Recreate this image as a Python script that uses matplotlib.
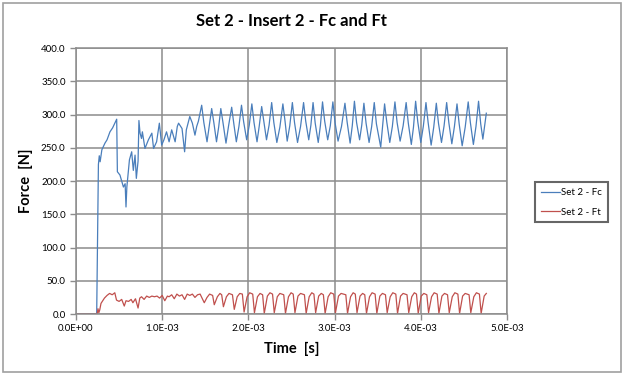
import matplotlib
matplotlib.use("Agg")
import matplotlib.pyplot as plt
from matplotlib.patches import Rectangle
from matplotlib.ticker import FuncFormatter, MultipleLocator

plt.rcParams['font.family'] = ['Lato', 'DejaVu Sans']

# Time in ms (converted to s below), forces in N
fc_t = [0.0, 0.24, 0.25, 0.26, 0.27, 0.28, 0.30, 0.336, 0.36, 0.394, 0.425, 0.472,
        0.48, 0.51, 0.55, 0.57, 0.58, 0.59, 0.62, 0.646, 0.665, 0.685, 0.70, 0.72,
        0.73, 0.743, 0.76, 0.77, 0.80, 0.84, 0.88, 0.90, 0.935, 0.967, 0.994, 1.02,
        1.05, 1.08, 1.11, 1.15, 1.175, 1.19, 1.23, 1.26, 1.28, 1.32, 1.35, 1.38,
        1.40, 1.42,
        1.458, 1.483, 1.52, 1.545, 1.574, 1.60, 1.63, 1.655, 1.68, 1.705, 1.74,
        1.77, 1.806, 1.83, 1.86, 1.89, 1.92, 1.945, 1.98, 2.01, 2.04, 2.065, 2.10,
        2.125, 2.154, 2.18, 2.21, 2.24, 2.27, 2.295, 2.33, 2.365, 2.40, 2.425,
        2.45, 2.48, 2.51, 2.535, 2.57, 2.605, 2.64, 2.665, 2.70, 2.725, 2.75,
        2.775, 2.81, 2.835, 2.86, 2.885, 2.92, 2.95, 2.98, 3.005, 3.04, 3.08,
        3.12, 3.145, 3.18, 3.205, 3.23, 3.255, 3.29, 3.315, 3.34, 3.365, 3.40,
        3.43, 3.46, 3.485, 3.535, 3.555, 3.58, 3.605, 3.64, 3.67, 3.70, 3.725,
        3.76, 3.795, 3.83, 3.855, 3.89, 3.915, 3.94, 3.965, 4.00, 4.03, 4.06,
        4.085, 4.12, 4.15, 4.18, 4.205, 4.24, 4.27, 4.30, 4.325, 4.36, 4.39,
        4.42, 4.445, 4.48, 4.515, 4.55, 4.575, 4.61, 4.64, 4.67, 4.695, 4.72,
        4.76]
fc_v = [0, 0, 120, 225, 238, 229, 247, 257, 262, 274, 280, 293,
        214, 209, 191, 196, 161, 191, 232, 244, 216, 239, 204, 230,
        291, 272, 264, 274, 249, 262, 272, 249, 259, 287, 254, 262,
        274, 259, 277, 259, 282, 287, 279, 244, 277, 297, 287, 269,
        282, 290,
        314, 288, 259, 282, 309, 287, 259, 281, 309, 288, 257,
        283, 311, 287, 259, 282, 314, 289, 262, 284, 316, 288, 259,
        282, 312, 289, 262, 284, 318, 288, 258, 281, 316, 290,
        260, 283, 318, 288, 258, 282, 318, 290, 262, 284, 318,
        287, 258, 283, 319, 290, 262, 283, 319, 288, 260, 282,
        317, 289, 257, 283, 320, 288, 262, 284, 317, 287, 258,
        282, 318, 286, 251, 280, 316, 289, 258, 282, 319, 288,
        260, 283, 318, 287, 255, 281, 320, 289, 258, 283, 318,
        288, 254, 281, 317, 287, 258, 283, 318, 288, 256, 282,
        316, 286, 253, 281, 319, 288, 255, 282, 320, 286, 263,
        302]

ft_t = [0.0, 0.245, 0.255, 0.265, 0.275, 0.29, 0.31, 0.33, 0.36, 0.39, 0.42, 0.45,
        0.47, 0.50, 0.53, 0.56, 0.58, 0.61, 0.64, 0.66, 0.69, 0.72, 0.74, 0.76,
        0.79, 0.82, 0.85, 0.88, 0.91, 0.94, 0.97, 1.00, 1.03, 1.06, 1.08, 1.11,
        1.14, 1.17, 1.20, 1.23, 1.26, 1.29, 1.32, 1.35, 1.38, 1.41, 1.44,
        1.488, 1.52, 1.55, 1.585, 1.604, 1.64, 1.67, 1.69, 1.71, 1.745, 1.775,
        1.815, 1.836, 1.87, 1.90, 1.93, 1.95, 1.985, 2.015, 2.05, 2.07, 2.105,
        2.135, 2.165, 2.184, 2.22, 2.25, 2.28, 2.30, 2.335, 2.365, 2.41, 2.43,
        2.465, 2.495, 2.52, 2.54, 2.575, 2.605, 2.65, 2.67, 2.705, 2.735, 2.76,
        2.78, 2.815, 2.845, 2.87, 2.89, 2.925, 2.955, 2.99, 3.01, 3.045, 3.075,
        3.13, 3.15, 3.185, 3.215, 3.24, 3.26, 3.295, 3.325, 3.35, 3.37, 3.405,
        3.435, 3.47, 3.49, 3.525, 3.555, 3.59, 3.61, 3.645, 3.675, 3.71, 3.73,
        3.765, 3.795, 3.84, 3.86, 3.895, 3.925, 3.95, 3.97, 4.005, 4.035, 4.07,
        4.09, 4.125, 4.155, 4.19, 4.21, 4.245, 4.275, 4.31, 4.33, 4.365, 4.395,
        4.43, 4.45, 4.485, 4.515, 4.56, 4.58, 4.615, 4.645, 4.68, 4.70, 4.735,
        4.76]
ft_v = [0, 0, 8, 2, 6, 16, 20, 24, 28, 31, 29, 32,
        21, 19, 22, 12, 20, 19, 22, 17, 23, 9, 24, 26,
        22, 27, 25, 27, 26, 27, 24, 28, 20, 27, 26, 29,
        23, 30, 27, 29, 22, 30, 28, 30, 25, 29, 30,
        17, 25, 30, 28, 14, 26, 31, 29, 11, 26, 31,
        29, 7, 26, 31, 30, 3, 26, 32, 30, 2, 26,
        31, 29, 1, 27, 32, 30, 2, 26, 31, 29, 1,
        26, 32, 30, 2, 27, 31, 29, 1, 26, 32, 30,
        2, 27, 31, 29, 1, 26, 32, 30, 2, 27, 31,
        29, 1, 26, 32, 30, 2, 27, 31, 29, 1, 26,
        32, 30, 1, 27, 31, 29, 2, 26, 32, 30, 1,
        27, 31, 29, 2, 26, 32, 30, 1, 27, 31, 29,
        2, 26, 32, 30, 1, 27, 31, 29, 2, 26, 32,
        30, 1, 27, 31, 29, 2, 26, 32, 30, 1, 27,
        31]

fig = plt.figure(figsize=(6.25, 3.77), dpi=100)
fig.patches.append(Rectangle((0.005, 0.012), 0.988, 0.98, transform=fig.transFigure,
                             fill=False, edgecolor='#a0a0a0', linewidth=1.2))

ax = fig.add_axes([0.1216, 0.167, 0.6896, 0.7056])
ax.plot([t * 1e-3 for t in fc_t], fc_v, color='#4a7ebb', linewidth=0.9, label='Set 2 - Fc')
ax.plot([t * 1e-3 for t in ft_t], ft_v, color='#c0504d', linewidth=0.9, label='Set 2 - Ft')

ax.set_xlim(0, 5e-3)
ax.set_ylim(0, 400)
ax.xaxis.set_major_locator(MultipleLocator(1e-3))
ax.yaxis.set_major_locator(MultipleLocator(50))
ax.xaxis.set_major_formatter(FuncFormatter(lambda x, p: f"{x:.1E}"))
ax.yaxis.set_major_formatter(FuncFormatter(lambda y, p: f"{y:.1f}"))
ax.grid(True, color='#8c8c8c', linewidth=1.1)
ax.set_axisbelow(True)
for s in ax.spines.values():
    s.set_color('#8c8c8c')
    s.set_linewidth(1.1)
ax.tick_params(colors='#8c8c8c', labelcolor='black', labelsize=7, length=4, width=1.0)

ax.set_title('Set 2 - Insert 2 - Fc and Ft', fontsize=12, fontweight='bold', pad=16)
ax.set_xlabel('Time  [s]', fontsize=10.5, fontweight='bold', labelpad=6)
ax.set_ylabel('Force  [N]', fontsize=10.5, fontweight='bold', labelpad=6)

leg = ax.legend(loc='upper left', bbox_to_anchor=(0.856, 0.517), bbox_transform=fig.transFigure,
                fontsize=7, frameon=True, fancybox=False, handlelength=2.0,
                borderpad=0.6, borderaxespad=0, labelspacing=1.1, handletextpad=0.1)
leg.get_frame().set_edgecolor('#404040')
leg.get_frame().set_linewidth(1.5)

fig.savefig('out.png', dpi=100)
